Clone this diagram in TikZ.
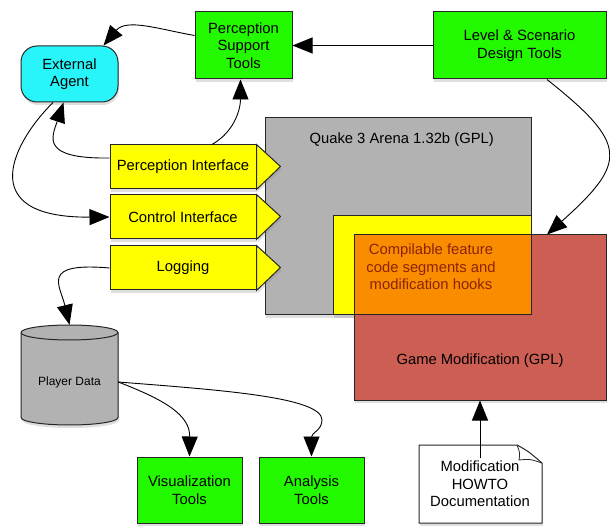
\documentclass[tikz,border=0pt]{standalone}
\usepackage{fontspec}
\setmainfont{Liberation Sans}
\usetikzlibrary{arrows.meta,shadows}
\definecolor{toolgreen}{RGB}{35,250,0}
\definecolor{agentcyan}{RGB}{40,245,250}
\definecolor{ifyellow}{RGB}{255,255,0}
\definecolor{qgray}{RGB}{178,178,178}
\definecolor{modred}{RGB}{204,94,84}
\definecolor{hookorange}{RGB}{250,140,0}
\definecolor{hooktext}{RGB}{140,35,5}

\begin{document}
\begin{tikzpicture}[x=1pt,y=1pt,
    font=\fontsize{14.8}{17.5}\selectfont,
    shade/.style={drop shadow={shadow xshift=1pt,shadow yshift=-3pt,opacity=0.25}},
    box/.style={draw=black!85,line width=1pt,align=center,inner sep=0pt,shade},
    tool/.style={box,fill=toolgreen},
    iface/.style={box,fill=ifyellow,minimum width=146pt,minimum height=44pt},
    ifacetip/.style={draw=black!85,line width=1pt,fill=ifyellow,shade},
    arr/.style={line width=0.9pt,-{Triangle[length=20pt,width=16pt]}}]
  \useasboundingbox (0,0) rectangle (610,525);

  % top row
  \node[tool,minimum width=97pt,minimum height=67pt] (PST) at (243.5,479.5) {Perception\\Support\\Tools};
  \node[tool,minimum width=173pt,minimum height=67pt] (LSD) at (519.5,479.5) {Level \& Scenario\\Design Tools};
  \node[box,fill=agentcyan,rounded corners=16pt,minimum width=97pt,minimum height=56pt] (EA) at (69.5,451) {External\\Agent};

  % engine, hooks and mod
  \node[box,fill=qgray,minimum width=266pt,minimum height=197pt] (Q) at (398,308.5) {};
  \node[anchor=west] (Qt) at (306,385) {Quake 3 Arena 1.32b (GPL)};
  \node[box,fill=ifyellow,minimum width=198pt,minimum height=99pt] (Y) at (432,259.5) {};
  \node[box,fill=modred,minimum width=252pt,minimum height=165pt] (GM) at (480,207.5) {};
  \fill[hookorange] (354,210) rectangle (531,290);
  \draw[black!85,line width=1pt] (354,210) rectangle (531,290);
  \node[text=hooktext,align=center] (CF) at (431,258) {Compilable feature\\code segments and\\modification hooks};
  \node (GMt) at (480,164) {Game Modification (GPL)};

  % interfaces
  \node[iface] (PI) at (183,358) {Perception Interface};
  \node[iface] (CI) at (183,308) {Control Interface};
  \node[iface] (LG) at (183,257) {Logging};
  \foreach \n in {PI,CI,LG}
    \draw[ifacetip] (\n.north east) -- ++(24,-22) -- (\n.south east) -- cycle;

  % player data
  \path[draw=black!85,line width=1pt,fill=qgray,shade] (21,192.5) -- (21,107.5)
    arc[start angle=180,end angle=360,x radius=48.5,y radius=7.5] -- (118,192.5)
    arc[start angle=0,end angle=180,x radius=48.5,y radius=7.5] -- cycle;
  \draw[black!85,line width=1pt] (21,192.5) arc[start angle=180,end angle=360,x radius=48.5,y radius=7.5];
  \node[minimum width=97pt,minimum height=114pt,font=\fontsize{12}{14}\selectfont] (PD) at (69.5,143) {Player Data};

  % bottom row
  \node[tool,minimum width=105pt,minimum height=66pt] (VT) at (189.5,35) {Visualization\\Tools};
  \node[tool,minimum width=105pt,minimum height=66pt] (AT) at (311.5,35) {Analysis\\Tools};
  \path[draw=black!85,line width=1pt,fill=white,shade] (419,80) -- (517,80)
    .. controls (528,74) .. (542,62) -- (542,2) -- (419,2) -- cycle;
  \draw[black!85,line width=0.8pt] (517,80) .. controls (520,72) .. (519,65) .. controls (530,66) .. (542,62);
  \node[align=center] (DOC) at (480,41) {Modification\\HOWTO\\Documentation};

  % connectors
  \draw[arr] ([yshift=10pt]PST.west) to[out=170,in=50] ([xshift=-15pt]EA.north east);
  \draw[arr] (LSD.west) -- (PST.east);
  \draw[arr] ([xshift=27.5pt]LSD.south) .. controls (628,381) and (628,363) .. ([xshift=67pt]GM.north);
  \draw[arr] ([yshift=9pt]PI.west) .. controls (40,366) and (52,388) .. ([xshift=-6pt]EA.south);
  \draw[arr] ([xshift=29pt]PI.north) to[out=30,in=-90] ([xshift=-3pt]PST.south);
  \draw[arr] ([xshift=-16.5pt]EA.south) .. controls (15,385) and (-29,307) .. (CI.west);
  \draw[arr] (LG.west) .. controls (40,263) and (60,240) .. (PD.north);
  \draw[arr] (PD.east) .. controls (165,125) and (190,110) .. (VT.north);
  \draw[arr] (PD.east) .. controls (220,135) and (322,128) .. (322,105)
    .. controls (322,95) and (311.5,92) .. (AT.north);
  \draw[arr] (DOC.north) -- (GM.south);
\end{tikzpicture}
\end{document}
